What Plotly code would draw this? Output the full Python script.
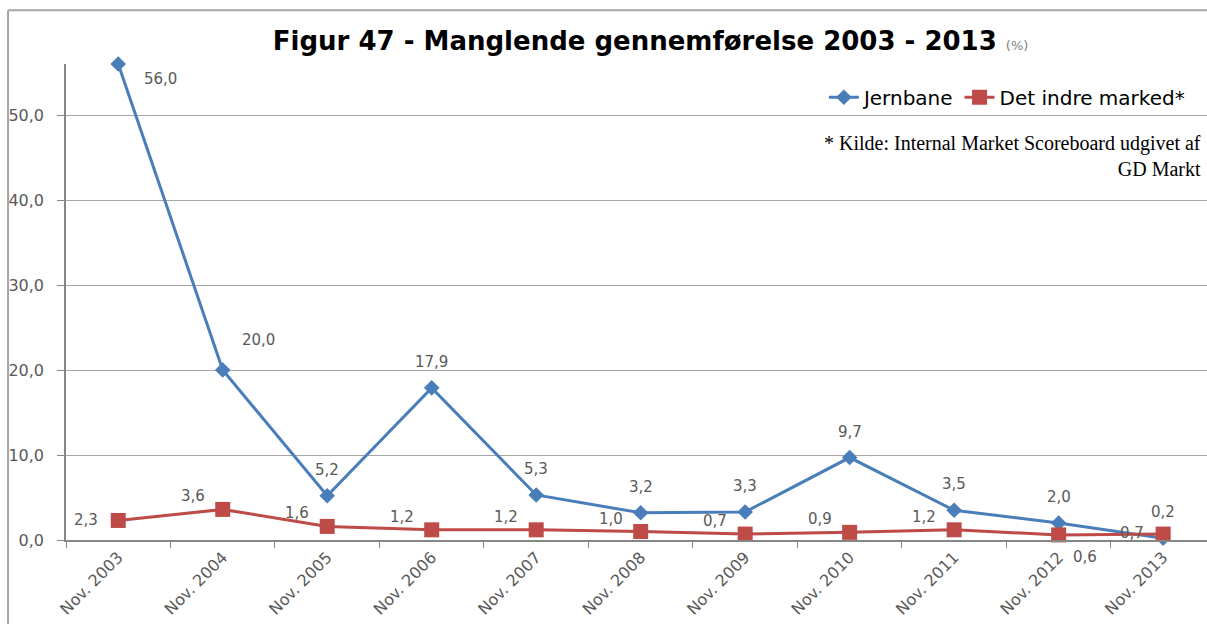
import plotly.graph_objects as go

categories = ["Nov. 2003", "Nov. 2004", "Nov. 2005", "Nov. 2006", "Nov. 2007", "Nov. 2008",
              "Nov. 2009", "Nov. 2010", "Nov. 2011", "Nov. 2012", "Nov. 2013"]
jernbane = [56.0, 20.0, 5.2, 17.9, 5.3, 3.2, 3.3, 9.7, 3.5, 2.0, 0.2]
indre_marked = [2.3, 3.6, 1.6, 1.2, 1.2, 1.0, 0.7, 0.9, 1.2, 0.6, 0.7]
y_ticks = [0, 10, 20, 30, 40, 50]

# label offsets in pixels (x right, y up) -- styling only
blue_dx = [42, 36] + [0] * 9
blue_dy = [-15, 30] + [26] * 9
red_dx = [-32] + [-30] * 8 + [26, -31]
red_dy = [0] + [13] * 8 + [-22, 1]

FONT = "DejaVu Sans"
GRAY = "#595959"
BLUE = "#4A7EBB"
RED = "#BE4B48"


def fmt(v):
    return f"{v:.1f}".replace(".", ",")


fig = go.Figure()
fig.add_trace(go.Scatter(
    x=categories, y=jernbane, name="Jernbane", mode="lines+markers",
    line=dict(color=BLUE, width=3),
    marker=dict(symbol="diamond", size=12, color=BLUE), cliponaxis=False,
))
fig.add_trace(go.Scatter(
    x=categories, y=indre_marked, name="Det indre marked*", mode="lines+markers",
    line=dict(color=RED, width=3),
    marker=dict(symbol="square", size=15, color=RED), cliponaxis=False,
))

for c, v, dx, dy in zip(categories, jernbane, blue_dx, blue_dy):
    fig.add_annotation(x=c, y=v, text=fmt(v), showarrow=False, xshift=dx, yshift=dy,
                       font=dict(family=FONT, size=15, color=GRAY))
for c, v, dx, dy in zip(categories, indre_marked, red_dx, red_dy):
    fig.add_annotation(x=c, y=v, text=fmt(v), showarrow=False, xshift=dx, yshift=dy,
                       font=dict(family=FONT, size=15, color=GRAY))

fig.update_layout(
    width=1207, height=624,
    margin=dict(l=66, r=0, t=64, b=84, autoexpand=False),
    paper_bgcolor="white", plot_bgcolor="white",
    separators=", ",
    font=dict(family=FONT, color=GRAY, size=15),
    title=dict(
        text="Figur 47 - Manglende gennemførelse 2003 - 2013 <span style='font-size:13px;font-weight:normal;color:#7f7f7f'>(%)</span>",
        x=0.539, xanchor="center", y=0.934, yanchor="middle",
        font=dict(family=FONT, size=26, color="black", weight="bold"),
    ),
    showlegend=True,
    legend=dict(orientation="h", x=0.985, xanchor="right", y=0.930, yanchor="middle",
                font=dict(family=FONT, size=20, color="black"), bgcolor="rgba(0,0,0,0)",
                itemwidth=30, tracegroupgap=0),
    xaxis=dict(
        type="category", range=[-0.5, 10.42], tickangle=-45, automargin=False,
        showgrid=False, showline=True, linecolor="#868686", linewidth=1.5,
        ticks="outside", tickson="boundaries", ticklen=6, tickcolor="#868686",
        tickfont=dict(family=FONT, size=16, color=GRAY),
    ),
    yaxis=dict(
        range=[0, 56], tickvals=y_ticks, tickformat=".1f", automargin=False,
        showgrid=True, gridcolor="#A6A6A6", gridwidth=1,
        showline=True, linecolor="#868686", linewidth=1.5,
        ticks="outside", ticklen=7, tickcolor="#868686", ticklabelstandoff=10,
        tickfont=dict(family=FONT, size=16, color=GRAY), zeroline=False,
    ),
)

fig.add_annotation(
    text="* Kilde: Internal Market Scoreboard udgivet af<br>GD Markt",
    xref="paper", yref="paper", x=0.9965, y=0.862, xanchor="right", yanchor="top",
    align="right", showarrow=False,
    font=dict(family="Liberation Serif", size=20, color="black"),
)

# chart frame (outer border of the original chart object)
fig.add_shape(type="line", xref="paper", yref="paper", x0=-0.0508, x1=1.01, y0=1.113, y1=1.113,
              line=dict(color="#A6A6A6", width=2))
fig.add_shape(type="line", xref="paper", yref="paper", x0=-0.0508, x1=-0.0508, y0=-0.2, y1=1.113,
              line=dict(color="#A6A6A6", width=2))

fig.write_html(
    "out.html",
    config={"displayModeBar": False},
    post_script="document.body.style.margin='0';document.body.style.overflow='hidden';",
)
